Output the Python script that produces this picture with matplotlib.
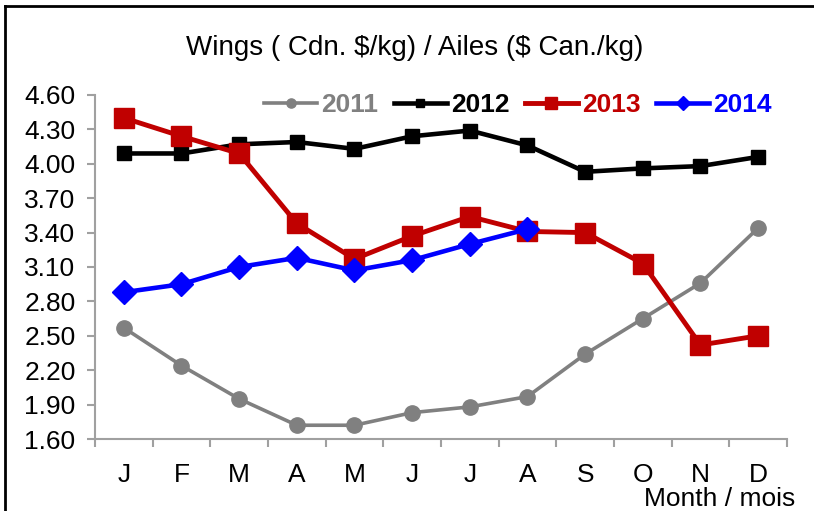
import matplotlib
matplotlib.use("Agg")
import matplotlib.pyplot as plt
from matplotlib.lines import Line2D
import numpy as np

plt.rcParams['font.family'] = ['Liberation Sans', 'DejaVu Sans']

months = ['J', 'F', 'M', 'A', 'M', 'J', 'J', 'A', 'S', 'O', 'N', 'D']
s2011 = [2.57, 2.24, 1.95, 1.72, 1.72, 1.83, 1.88, 1.97, 2.34, 2.65, 2.96, 3.44]
s2012 = [4.09, 4.09, 4.17, 4.19, 4.13, 4.24, 4.29, 4.16, 3.93, 3.96, 3.98, 4.06]
s2013 = [4.40, 4.24, 4.09, 3.48, 3.17, 3.37, 3.54, 3.41, 3.40, 3.13, 2.42, 2.50]
s2014 = [2.88, 2.95, 3.10, 3.18, 3.07, 3.16, 3.30, 3.43]
yticks = [1.60, 1.90, 2.20, 2.50, 2.80, 3.10, 3.40, 3.70, 4.00, 4.30, 4.60]

fig = plt.figure(figsize=(8.14, 5.11), dpi=100)
ax = fig.add_axes([0.1167, 0.1409, 0.8501, 0.6732])

x = np.arange(len(months))
ax.plot(x, s2011, color='#808080', lw=2.6, marker='o', ms=11, label='2011', zorder=3)
ax.plot(x, s2012, color='#000000', lw=3.3, marker='s', ms=10.5, label='2012', zorder=4)
ax.plot(x, s2013, color='#C00000', lw=3.5, marker='s', ms=14, label='2013', zorder=5)
ax.plot(x[:len(s2014)], s2014, color='#0000FF', lw=3.3, marker='D', ms=12, label='2014', zorder=6)

ax.set_xlim(-0.5, len(months) - 0.5)
ax.set_ylim(1.60, 4.60)
ax.set_yticks(yticks)
ax.set_yticklabels([f'{v:.2f}' for v in yticks], fontsize=19)
ax.set_xticks(x)
ax.set_xticklabels(months, fontsize=19)
ax.tick_params(axis='x', length=0, pad=17)
ax.set_xticks(np.arange(-0.5, len(months), 1.0), minor=True)
ax.tick_params(axis='x', which='minor', length=6, color='#A0A0A0', width=1.5, direction='out')
ax.tick_params(axis='y', length=6, color='#A0A0A0', width=1.5, direction='out', pad=8)
for s in ['top', 'right']:
    ax.spines[s].set_visible(False)
for s in ['left', 'bottom']:
    ax.spines[s].set_color('#A0A0A0')
    ax.spines[s].set_linewidth(1.5)

fig.text(0.51, 0.906, 'Wings ( Cdn. \\$/kg) / Ailes (\\$ Can./kg)', ha='center', va='center', fontsize=20)
fig.text(0.977, 0.024, 'Month / mois', ha='right', va='center', fontsize=19)

leg = ax.legend(loc='upper right', bbox_to_anchor=(1.012, 1.075), ncol=4, frameon=False,
                handlelength=2.0, columnspacing=0.6, handletextpad=0.15,
                markerscale=0.6, prop={'weight': 'bold', 'size': 19})
for t, c in zip(leg.get_texts(), ['#808080', '#000000', '#C00000', '#0000FF']):
    t.set_color(c)

fig.add_artist(Line2D([0.006, 1.0], [0.988, 0.988], color='black', lw=2, transform=fig.transFigure))
fig.add_artist(Line2D([0.006, 0.006], [0.0, 0.988], color='black', lw=2, transform=fig.transFigure))

fig.savefig('out.png', dpi=100)
